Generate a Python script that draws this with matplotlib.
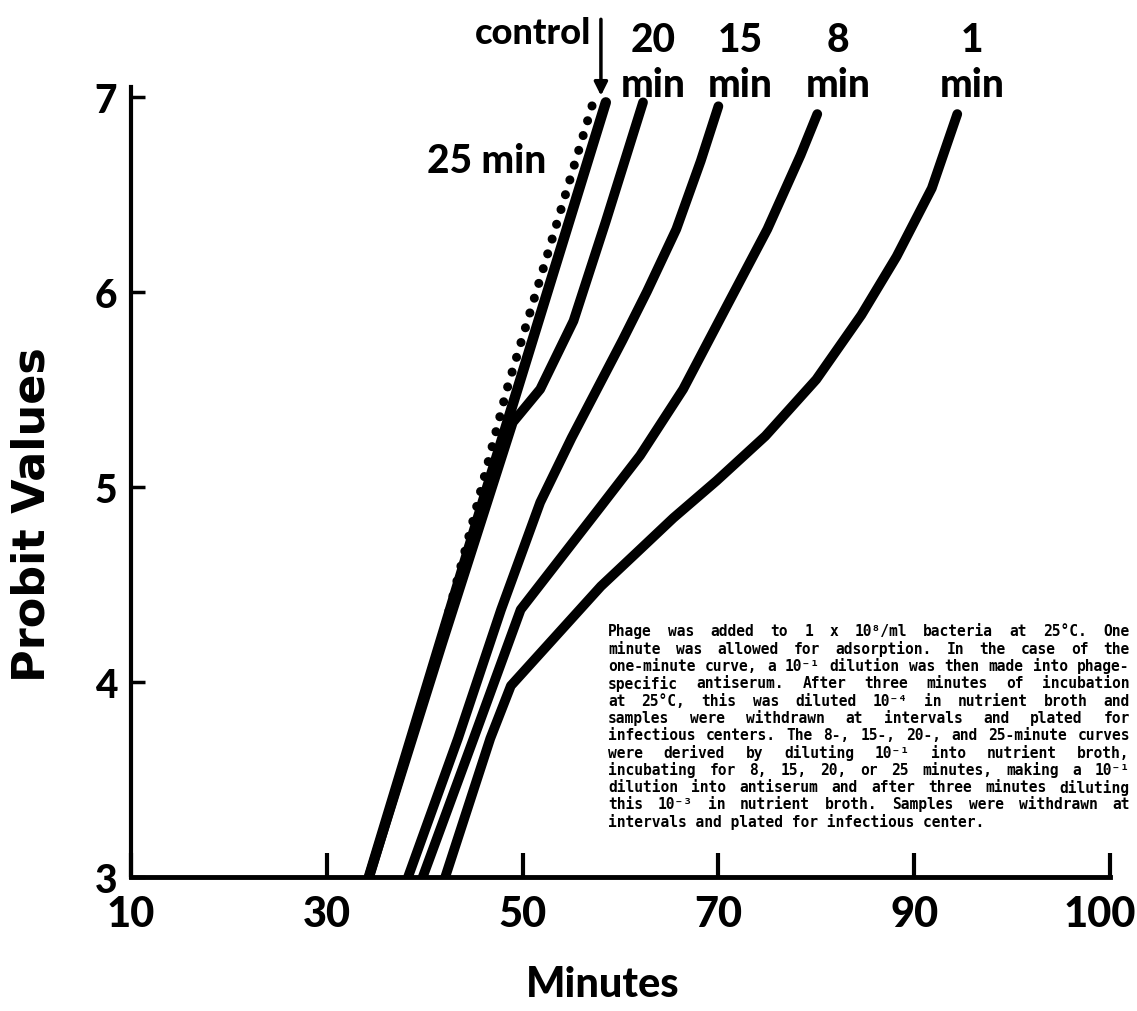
import matplotlib
matplotlib.use("Agg")
import matplotlib.pyplot as plt
from matplotlib.transforms import ScaledTranslation

plt.rcParams["font.family"] = ["Lato", "DejaVu Sans"]
plt.rcParams["font.weight"] = "black"

# ── data (minutes vs probit) ─────────────────────────────────────────
control_x = [34.3, 46.4, 58.5]
control_y = [3.0, 5.0, 6.97]

min25_x = [34.3, 41.6, 44.8, 48.4, 53.2, 57.2]
min25_y = [3.0, 4.2, 4.8, 5.5, 6.3, 6.97]

min20_x = [34.3, 41.8, 49.0, 51.8, 55.2, 58.5, 62.3]
min20_y = [3.0, 4.2, 5.33, 5.50, 5.85, 6.36, 6.97]

min15_x = [38.3, 43.4, 47.8, 51.8, 55.0, 57.6, 60.2, 62.7, 65.7, 68.2, 70.0]
min15_y = [3.0, 3.71, 4.37, 4.92, 5.25, 5.5, 5.75, 6.0, 6.32, 6.67, 6.95]

min8_x = [39.8, 45.0, 49.8, 58.0, 62.0, 66.4, 70.9, 75.0, 78.4, 80.1]
min8_y = [3.0, 3.71, 4.37, 4.90, 5.16, 5.50, 5.93, 6.32, 6.70, 6.91]

min1_x = [42.1, 46.7, 48.8, 58.0, 61.6, 65.4, 69.8, 74.8, 80.0, 84.6, 88.2, 91.8, 94.4]
min1_y = [3.0, 3.71, 3.98, 4.49, 4.66, 4.84, 5.03, 5.26, 5.55, 5.88, 6.18, 6.53, 6.91]

# the original axis is evenly spaced but its last label reads 100
xtick_pos = [10, 30, 50, 70, 90, 110]
xtick_lbl = ["10", "30", "50", "70", "90", "100"]
ytick_pos = [3, 4, 5, 6, 7]

note_lines = [
    "Phage was added to 1 x 10\u2078/ml bacteria at 25\u00b0C. One",
    "minute was allowed for adsorption. In the case of the",
    "one-minute curve, a 10\u207b\u00b9 dilution was then made into phage-",
    "specific antiserum. After three minutes of incubation",
    "at 25\u00b0C, this was diluted 10\u207b\u2074 in nutrient broth and",
    "samples were withdrawn at intervals and plated for",
    "infectious centers. The 8-, 15-, 20-, and 25-minute curves",
    "were derived by diluting 10\u207b\u00b9 into nutrient broth,",
    "incubating for 8, 15, 20, or 25 minutes, making a 10\u207b\u00b9",
    "dilution into antiserum and after three minutes diluting",
    "this 10\u207b\u00b3 in nutrient broth. Samples were withdrawn at",
    "intervals and plated for infectious center.",
]

W, H = 1137, 1012
fig = plt.figure(figsize=(W / 100, H / 100), dpi=100)
fig.patch.set_facecolor("white")
ax = fig.add_axes([131 / W, 1 - 878 / H, (1110 - 131) / W, (878 - 78) / H])
ax.set_xlim(10, 110)
ax.set_ylim(3, 7.1)

lw = 7
ax.plot(control_x, control_y, color="black", lw=lw + 0.5, solid_capstyle="round", zorder=3)
for xs, ys in [(min20_x, min20_y), (min15_x, min15_y), (min8_x, min8_y), (min1_x, min1_y)]:
    ax.plot(xs, ys, color="black", lw=lw, solid_capstyle="round",
            solid_joinstyle="round", zorder=3)
ax.plot(min25_x, min25_y, color="black", lw=6.5, linestyle=(0, (0.01, 1.7)),
        dash_capstyle="round", zorder=3)

# ── axes styling ─────────────────────────────────────────────────────
for s in ["top", "right"]:
    ax.spines[s].set_visible(False)
ax.spines["bottom"].set_linewidth(3.5)
ax.spines["left"].set_linewidth(3)
ax.spines["left"].set_bounds(3, 7.05)
ax.set_xticks(xtick_pos)
ax.set_xticklabels(xtick_lbl)
ax.set_yticks(ytick_pos)
ax.tick_params(axis="x", direction="in", length=17, width=3, pad=13, labelsize=30)
ax.tick_params(axis="y", direction="in", length=10, width=2.5, pad=10, labelsize=28)
last = ax.get_xticklabels()[-1]
last.set_transform(last.get_transform() + ScaledTranslation(-0.1, 0, fig.dpi_scale_trans))

fig.text(32 / W, 1 - 515 / H, "Probit Values", rotation=90, ha="center", va="center",
         fontsize=32, family="DejaVu Sans", fontweight="bold")
fig.text(603 / W, 1 - 985 / H, "Minutes", ha="center", va="center", fontsize=30)

# ── curve labels ────────────────────────────────────────────────────
ax.annotate("", xy=(58.0, 6.99), xytext=(58.0, 7.41),
            arrowprops=dict(arrowstyle="-|>", color="black", lw=2.5, mutation_scale=20),
            annotation_clip=False)
ax.text(57.0, 7.33, "control", ha="right", va="center", fontsize=26, clip_on=False)
for xc, top in [(63.3, "20"), (72.2, "15"), (82.2, "8"), (95.9, "1")]:
    ax.text(xc, 7.29, top, ha="center", va="center", fontsize=28, clip_on=False)
    ax.text(xc, 7.06, "min", ha="center", va="center", fontsize=28, clip_on=False)
ax.text(46.3, 6.67, "25 min", ha="center", va="center", fontsize=28)

# ── justified note block ─────────────────────────────────────────────
fs = 10.5
cw = 0.602 * fs * 100 / 72   # mono glyph advance, px
left, right = 608, 1130
y0, dy = 632, 17.3
for i, line in enumerate(note_lines):
    py = y0 + i * dy
    words = line.split(" ")
    if i == len(note_lines) - 1:
        fig.text(left / W, 1 - py / H, line, ha="left", va="center", fontsize=fs,
                 family="DejaVu Sans Mono", fontweight="bold")
        continue
    nchar = sum(len(w) for w in words)
    gap = (right - left - nchar * cw) / (len(words) - 1)
    px = left
    for w in words:
        fig.text(px / W, 1 - py / H, w, ha="left", va="center", fontsize=fs,
                 family="DejaVu Sans Mono", fontweight="bold")
        px += len(w) * cw + gap

fig.savefig("out.png", dpi=100)
